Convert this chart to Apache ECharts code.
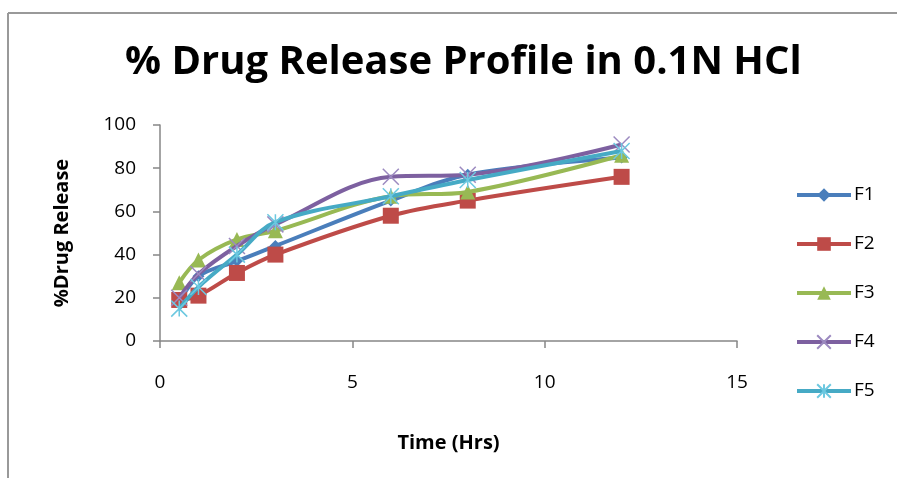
<!DOCTYPE html>
<html>
<head>
<meta charset="utf-8">
<script src="https://cdn.jsdelivr.net/npm/echarts@6/dist/echarts.min.js"></script>
<style>html,body{margin:0;padding:0;background:#fff;}#c{width:897px;height:478px;}</style>
</head>
<body>
<div id="c"></div>
<script>
const times = [0.5, 1, 2, 3, 6, 8, 12];
const seriesNames = ['F1', 'F2', 'F3', 'F4', 'F5'];
const F1 = [18, 30, 37, 44, 65, 77, 85];
const F2 = [19, 21, 31.5, 40, 58, 65, 76];
const F3 = [27, 37.5, 47, 51, 67, 69, 86];
const F4 = [20, 31, 44, 54, 76, 77, 91];
const F5 = [15, 25, 40, 55, 67, 74.5, 88];
const xTicks = [0, 5, 10, 15];
const yTicks = [0, 20, 40, 60, 80, 100];

const colors = ['#4A7EBB', '#BE4B48', '#98B954', '#7D60A0', '#46AAC5'];
const symbols = [
  'diamond',
  'rect',
  'triangle',
  'path://M0,0L10,10M10,0L0,10',
  'path://M0,0L10,10M10,0L0,10M5,0L5,10'
];
const symSizes = [12, 16, 15, 16, 16];
const allData = [F1, F2, F3, F4, F5];

const chart = echarts.init(document.getElementById('c'), null, {renderer: 'canvas'});
const series = seriesNames.map((n, i) => ({
  name: n,
  type: 'line',
  smooth: 0.35,
  data: times.map((t, j) => [t, allData[i][j]]),
  symbol: symbols[i],
  symbolSize: symSizes[i],
  lineStyle: {color: colors[i], width: 4},
  itemStyle: i >= 3
    ? {color: 'rgba(0,0,0,0)', borderColor: i === 3 ? '#9C8AC0' : '#6CC8E0', borderWidth: 1.5}
    : {color: colors[i], borderColor: colors[i], borderWidth: 0},
  emphasis: {disabled: true},
  z: 2 + i
}));

chart.setOption({
  animation: false,
  backgroundColor: '#fff',
  title: {
    text: '% Drug Release Profile in 0.1N HCl',
    left: 120,
    top: 38,
    textStyle: {fontFamily: 'Open Sans', fontWeight: 'bold', fontSize: 40, color: '#000'}
  },
  legend: {
    orient: 'vertical',
    left: 790,
    top: 179,
    itemWidth: 54,
    itemHeight: 17,
    itemGap: 27,
    data: seriesNames,
    lineStyle: {width: 4},
    textStyle: {fontFamily: 'Open Sans', fontSize: 19, color: '#000', lineHeight: 22, padding: [0, 0, 0, -2]}
  },
  grid: {left: 160, top: 125, width: 577, height: 216, containLabel: false},
  xAxis: {
    type: 'value',
    min: 0, max: 15, interval: 5,
    name: 'Time (Hrs)',
    nameLocation: 'middle',
    nameGap: 92,
    nameTextStyle: {fontFamily: 'Open Sans', fontWeight: 'bold', fontSize: 20, color: '#000'},
    axisLine: {lineStyle: {color: '#868686', width: 1.5}},
    axisTick: {show: true, inside: false, length: 7, lineStyle: {color: '#868686', width: 1.5}},
    axisLabel: {margin: 32, fontFamily: 'Open Sans', fontSize: 19, color: '#000',
      formatter: v => xTicks.includes(v) ? String(v) : ''},
    splitLine: {show: false}
  },
  yAxis: {
    type: 'value',
    min: 0, max: 100, interval: 20,
    name: '%Drug Release',
    nameLocation: 'middle',
    nameGap: 88,
    nameRotate: 90,
    nameTextStyle: {fontFamily: 'Open Sans', fontWeight: 'bold', fontSize: 20, color: '#000'},
    axisLine: {show: true, lineStyle: {color: '#868686', width: 1.5}},
    axisTick: {show: true, inside: false, length: 7, lineStyle: {color: '#868686', width: 1.5}},
    axisLabel: {margin: 24, fontFamily: 'Open Sans', fontSize: 19, color: '#000',
      formatter: v => yTicks.includes(v) ? String(v) : ''},
    splitLine: {show: false}
  },
  graphic: [
    {type: 'line', shape: {x1: 8, y1: 13, x2: 897, y2: 13}, style: {stroke: '#999', lineWidth: 2}},
    {type: 'line', shape: {x1: 8, y1: 13, x2: 8, y2: 478}, style: {stroke: '#999', lineWidth: 2}}
  ],
  series: series
});
</script>
</body>
</html>
